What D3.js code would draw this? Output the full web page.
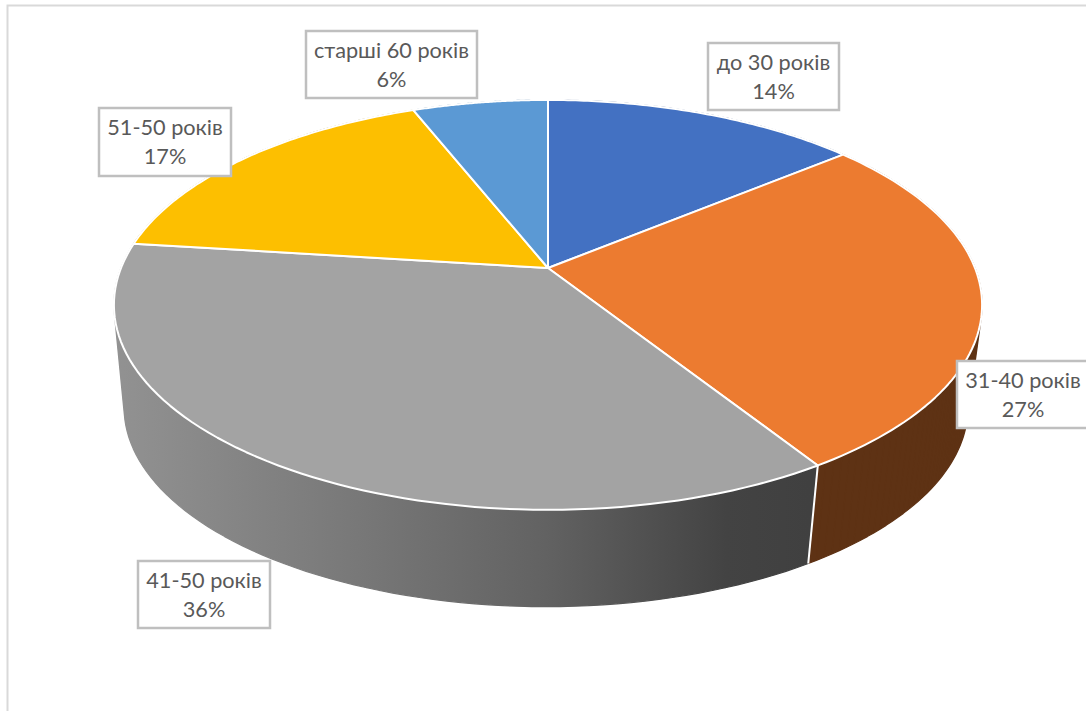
<!DOCTYPE html>
<html><head><meta charset="utf-8">
<script src="https://cdn.jsdelivr.net/npm/d3@7"></script>
<style>html,body{margin:0;padding:0;background:#fff}svg{display:block}</style>
</head><body>
<script>
const categories = ["до 30 років","31-40 років","41-50 років","51-50 років","старші 60 років"];
const shares = [14,27,36,17,6];
const topColors = ["#4371c2","#ec7b30","#a3a3a3","#fdbf00","#5b99d4"];
const wallColors = ["#264478","#5e3214","url(#grayWall)","#997300","#255e91"];
const labelBoxes = [[708,43,131,67],[957,361,140,67],[138,561,132,67],[99,108,132,68],[306,31,171,67]];

const W=1086,H=711;
const svg=d3.select("body").append("svg").attr("width",W).attr("height",H);
const defs=svg.append("defs");
const g=defs.append("linearGradient").attr("id","grayWall").attr("gradientUnits","userSpaceOnUse")
  .attr("x1",114).attr("x2",810).attr("y1",0).attr("y2",0);
[[0,"#929292"],[0.35,"#787878"],[0.62,"#626262"],[0.88,"#434343"],[1,"#404040"]]
  .forEach(([o,c])=>g.append("stop").attr("offset",o).attr("stop-color",c));

// frame
svg.append("path").attr("d","M1086,5.5H7.5V711").attr("fill","none").attr("stroke","#d9d9d9").attr("stroke-width",2);

// perspective projection of the unit disc
const cx=548,cy=268,a=427,b=198.3,k=-0.18,s=0.972,dy=103.6,rimShift=-2;
const topP=t=>{const u=Math.sin(t),v=-Math.cos(t),d=1+k*v;return [cx+a*u/d,cy+b*v/d];};
const botP=t=>{const p=topP(t);return [cx+rimShift+(p[0]-cx)*s,cy+dy+(p[1]-cy)*s];};
const pie=d3.pie().sort(null).value(d=>d)(shares);
const N=80;
const arcPts=(d,f)=>d3.range(0,N+1).map(i=>f(d.startAngle+(d.endAngle-d.startAngle)*i/N));
const line=d3.line();
// the wall is the area swept between the rims: consistently wound quads so folds fill in
const wallPath=d=>{
  const A=arcPts(d,topP),B=arcPts(d,botP);let out="";
  for(let i=0;i<N;i++){
    let q=[A[i],A[i+1],B[i+1],B[i]];
    if(d3.polygonArea(q)<0)q=q.reverse();
    out+=line(q)+"Z";
  }
  return out;
};

// walls
svg.append("g").selectAll("path").data(pie).join("path")
  .attr("d",wallPath)
  .attr("fill",(d,i)=>wallColors[i]).attr("stroke",(d,i)=>wallColors[i])
  .attr("stroke-width",1.2).attr("stroke-linejoin","round");
// white separator on the visible wall edge between orange and gray
const edge=pie[2].startAngle;
svg.append("path").attr("d",line([topP(edge),botP(edge)])).attr("stroke","#fff").attr("stroke-width",2).attr("fill","none");
// top faces
svg.append("g").selectAll("path").data(pie).join("path")
  .attr("d",d=>line([[cx,cy],...arcPts(d,topP)])+"Z")
  .attr("fill",(d,i)=>topColors[i]).attr("stroke","#fff").attr("stroke-width",2).attr("stroke-linejoin","round");

// labels
const lab=svg.append("g").selectAll("g").data(categories).join("g");
lab.append("rect").attr("x",(d,i)=>labelBoxes[i][0]).attr("y",(d,i)=>labelBoxes[i][1])
  .attr("width",(d,i)=>labelBoxes[i][2]).attr("height",(d,i)=>labelBoxes[i][3])
  .attr("fill","#fff").attr("stroke","#bfbfbf").attr("stroke-width",2.5);
const tx=(i)=>i===1?1023:labelBoxes[i][0]+labelBoxes[i][2]/2;
lab.append("text").attr("x",(d,i)=>tx(i)).attr("y",(d,i)=>labelBoxes[i][1]+27)
  .text(d=>d);
lab.append("text").attr("x",(d,i)=>tx(i)).attr("y",(d,i)=>labelBoxes[i][1]+56)
  .text((d,i)=>d3.format("d")(shares[i])+"%");
lab.selectAll("text").attr("text-anchor","middle").attr("fill","#595959")
  .attr("font-family","Lato, 'Open Sans', sans-serif").attr("font-size",21.7);
</script>
</body></html>
